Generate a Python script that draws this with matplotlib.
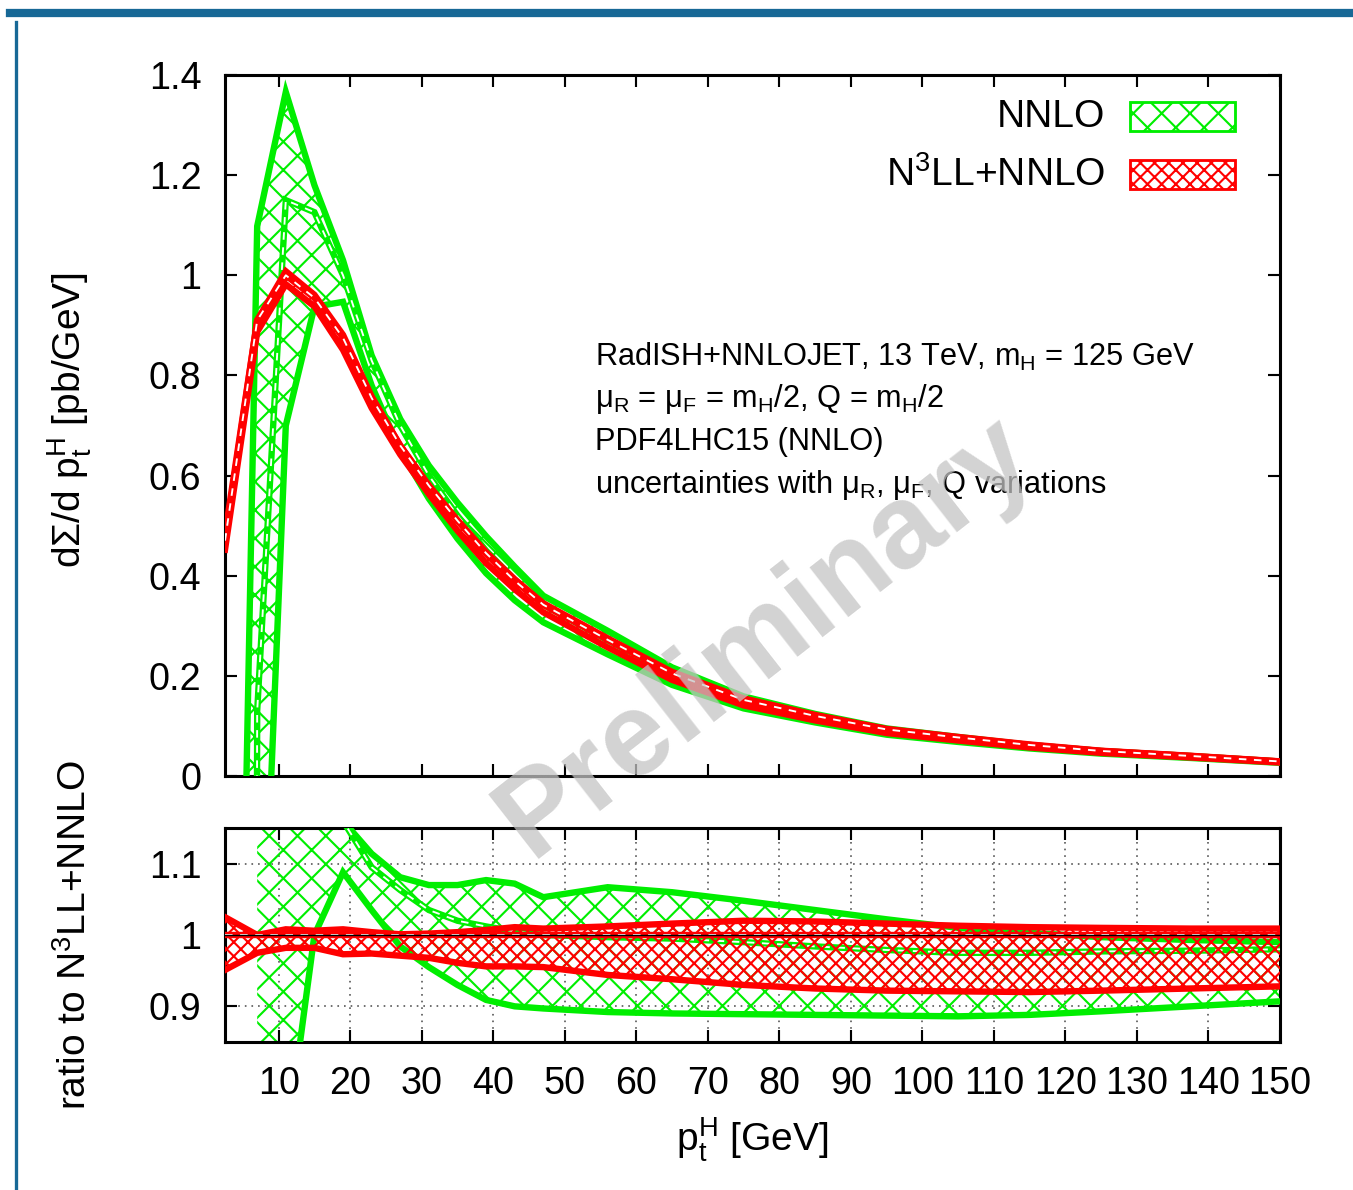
import matplotlib
matplotlib.use('Agg')
import matplotlib.pyplot as plt
from matplotlib.patches import Rectangle
from matplotlib.lines import Line2D

plt.rcParams['font.family'] = ['Liberation Sans', 'DejaVu Sans']
plt.rcParams['mathtext.fontset'] = 'custom'
plt.rcParams['mathtext.rm'] = 'Liberation Sans'
plt.rcParams['mathtext.it'] = 'Liberation Sans'
plt.rcParams['mathtext.default'] = 'regular'
plt.rcParams['hatch.linewidth'] = 0.9

# ---- data
pt = [2.5, 7, 11, 15, 19, 23, 27, 31, 35, 39, 43, 47, 56, 65, 75, 85, 95, 105, 115, 125, 137.5, 150]

# N3LL+NNLO (top panel)
n3ll_cen = [0.47, 0.91, 1.00, 0.955, 0.875, 0.755, 0.66, 0.58, 0.51, 0.445, 0.39, 0.342,
            0.272, 0.205, 0.152, 0.12, 0.093, 0.077, 0.062, 0.05, 0.04, 0.029]
n3ll_up = [0.482, 0.91, 1.008, 0.961, 0.881, 0.758, 0.66, 0.58, 0.511, 0.447, 0.393, 0.345,
           0.275, 0.208, 0.155, 0.122, 0.094, 0.078, 0.063, 0.0505, 0.0404, 0.0293]
n3ll_lo = [0.452, 0.887, 0.982, 0.938, 0.851, 0.735, 0.642, 0.563, 0.49, 0.425, 0.373, 0.327,
           0.257, 0.192, 0.141, 0.111, 0.0858, 0.0709, 0.057, 0.0461, 0.037, 0.0269]

# NNLO (top panel)
nnlo_up = [-2.2, 1.098, 1.366, 1.18, 1.03, 0.84, 0.713, 0.62, 0.546, 0.479, 0.418, 0.36,
           0.29, 0.217, 0.159, 0.124, 0.095, 0.078, 0.062, 0.05, 0.04, 0.029]
nnlo_cen = [-25, 0.13, 1.15, 1.126, 1.0, 0.83, 0.70, 0.60, 0.52, 0.45, 0.392, 0.342,
            0.271, 0.204, 0.150, 0.118, 0.091, 0.075, 0.0605, 0.0488, 0.039, 0.0284]
nnlo_lo = [-30, -0.68, 0.70, 0.937, 0.947, 0.78, 0.65, 0.554, 0.474, 0.405, 0.351, 0.307,
           0.243, 0.182, 0.135, 0.107, 0.0825, 0.068, 0.055, 0.0447, 0.036, 0.0263]

# ratio to N3LL+NNLO (bottom panel)
pt_r = pt[1:]
r_nnlo_up = [1.5, 1.37, 1.23, 1.16, 1.114, 1.081, 1.07, 1.07, 1.077, 1.072, 1.053,
             1.067, 1.06, 1.048, 1.035, 1.022, 1.01, 1.003, 0.997, 0.993, 0.99]
r_nnlo_cen = [1.3, 1.2, 1.19, 1.16, 1.095, 1.063, 1.035, 1.02, 1.012, 1.005, 1.0,
              0.997, 0.995, 0.99, 0.984, 0.979, 0.975, 0.975, 0.977, 0.978, 0.98]
r_nnlo_lo = [0.2, 0.7, 1.0, 1.088, 1.035, 0.984, 0.955, 0.93, 0.909, 0.9, 0.897,
             0.892, 0.89, 0.889, 0.888, 0.887, 0.886, 0.888, 0.893, 0.9, 0.907]
r_n3ll_up = [1.025, 1.0, 1.008, 1.006, 1.008, 1.004, 1.001, 1.002, 1.004, 1.007, 1.011, 1.009,
             1.012, 1.016, 1.02, 1.019, 1.016, 1.013, 1.011, 1.01, 1.009, 1.009]
r_n3ll_cen = [1.0] * len(pt)
r_n3ll_lo = [0.951, 0.975, 0.982, 0.982, 0.973, 0.974, 0.971, 0.968, 0.961, 0.956, 0.956, 0.955,
             0.944, 0.938, 0.93, 0.925, 0.922, 0.921, 0.92, 0.922, 0.925, 0.928]

xticks = list(range(10, 151, 10))
green = '#00ee00'
red = '#ff0000'
lw = 2.7

W, H = 1353, 1190
dpi = 170
fig = plt.figure(figsize=(W / dpi, H / dpi), dpi=dpi)

def px(x0, y0, x1, y1):
    return [x0 / W, 1 - y1 / H, (x1 - x0) / W, (y1 - y0) / H]

ax = fig.add_axes(px(225, 75, 1280, 776))
axr = fig.add_axes(px(225, 828, 1280, 1042))


def band(a, x, lo, cen, up, col, hatch, z):
    a.fill_between(x, lo, up, facecolor='none', edgecolor=col, hatch=hatch, linewidth=0, zorder=z)
    a.plot(x, up, color=col, lw=lw, zorder=z + 1, solid_joinstyle='miter')
    a.plot(x, lo, color=col, lw=lw, zorder=z + 1, solid_joinstyle='miter')
    a.plot(x, cen, color=col, lw=lw, zorder=z + 1, solid_joinstyle='miter')
    a.plot(x, cen, color='white', lw=0.8, ls=(0, (4, 4)), zorder=z + 2)


band(ax, pt, nnlo_lo, nnlo_cen, nnlo_up, green, 'xx', 2)
band(ax, pt, n3ll_lo, n3ll_cen, n3ll_up, red, 'xxxx', 5)

band(axr, pt_r, r_nnlo_lo, r_nnlo_cen, r_nnlo_up, green, 'xx', 2)
band(axr, pt, r_n3ll_lo, r_n3ll_cen, r_n3ll_up, red, 'xxxx', 5)
axr.axhline(1.0, color='black', lw=0.6, zorder=9)

for a in (ax, axr):
    a.set_xlim(2.5, 150)
    a.set_xticks(xticks)
    a.tick_params(direction='in', length=5, width=0.9, top=True, right=True, labelsize=16, pad=10)
    for s in a.spines.values():
        s.set_linewidth(1.3)

ax.set_ylim(0, 1.4)
ax.set_yticks([0, 0.2, 0.4, 0.6, 0.8, 1.0, 1.2, 1.4])
ax.set_yticklabels(['0', '0.2', '0.4', '0.6', '0.8', '1', '1.2', '1.4'])
ax.set_xticklabels([])

axr.set_ylim(0.85, 1.15)
axr.set_yticks([0.9, 1.0, 1.1])
axr.set_yticklabels(['0.9', '1', '1.1'])
axr.set_xticklabels([str(t) for t in xticks])
axr.grid(True, color='#555555', ls=(0, (1, 3)), lw=0.7)

fig.text(70 / W, 1 - 420 / H, r'd$\Sigma$/d p$_t^H$ [pb/GeV]', rotation=90, ha='center', va='center', fontsize=16.5)
fig.text(75 / W, 1 - 935 / H, r'ratio to N$^3$LL+NNLO', rotation=90, ha='center', va='center', fontsize=16.5)
fig.text(752 / W, 1 - 1140 / H, r'p$_t^H$ [GeV]', ha='center', va='center', fontsize=16.5)

info = ['RadISH+NNLOJET, 13 TeV, m$_H$ = 125 GeV',
        '$\\mu_R$ = $\\mu_F$ = m$_H$/2, Q = m$_H$/2',
        'PDF4LHC15 (NNLO)',
        'uncertainties with $\\mu_R$, $\\mu_F$, Q variations']
for i, s in enumerate(info):
    fig.text(595 / W, 1 - (357 + 42.5 * i) / H, s, ha='left', va='center', fontsize=13)

# legend drawn by hand
leg = [('NNLO', green, 'xx', 117), ('N$^3$LL+NNLO', red, 'xxxx', 175)]
for name, col, hat, yc in leg:
    fig.text(1105 / W, 1 - yc / H, name, ha='right', va='center', fontsize=16.5)
    fig.add_artist(Rectangle((1130 / W, 1 - (yc + 14) / H), 105 / W, 29 / H, transform=fig.transFigure,
                             facecolor='none', edgecolor=col, hatch=hat, lw=1.2))

fig.text(765 / W, 1 - 637 / H, 'Preliminary', rotation=38, ha='center', va='center',
         fontsize=50, fontweight='bold', color='#c4c4c4', alpha=0.75, zorder=20)

# slide decorations
fig.add_artist(Line2D([10 / W, 1], [1 - 12.5 / H, 1 - 12.5 / H], color='#176896', lw=3.5))
fig.add_artist(Line2D([16 / W, 16 / W], [0, 1 - 22 / H], color='#176896', lw=1.4))

fig.savefig('out.png', dpi=dpi)
